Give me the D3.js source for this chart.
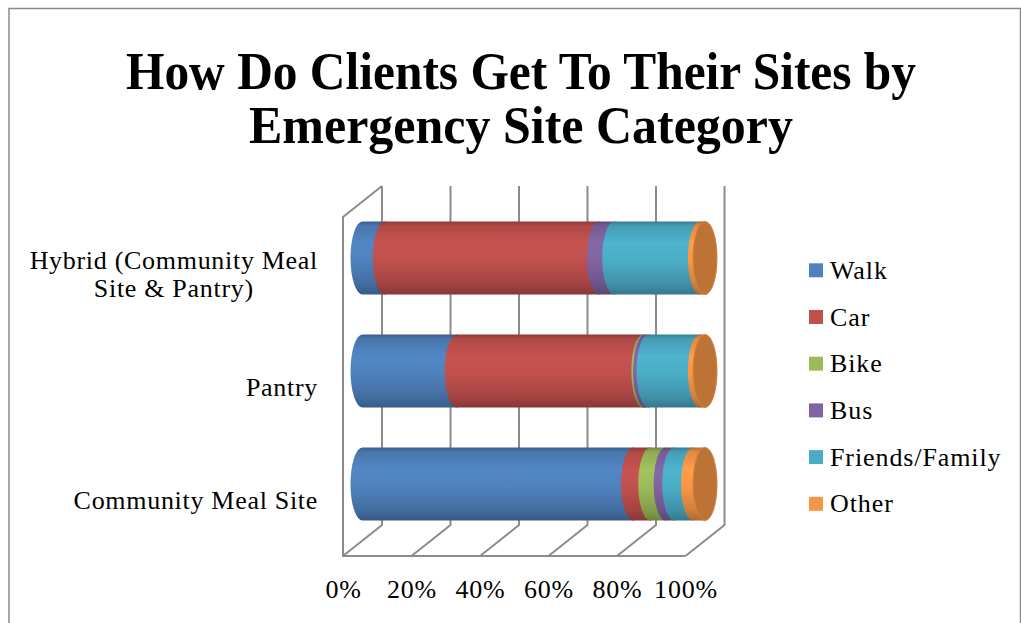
<!DOCTYPE html>
<html>
<head>
<meta charset="utf-8">
<script src="https://cdn.jsdelivr.net/npm/d3@7"></script>
<style>
  html, body { margin: 0; padding: 0; background: #fff; }
  svg { display: block; }
  text { font-family: "Liberation Serif", "Times New Roman", serif; fill: #000; }
</style>
</head>
<body>
<svg id="chart" width="1021" height="623"></svg>
<script>
// Share of clients by travel mode, per emergency site category (percent)
const categories = ["Hybrid", "Pantry", "Community Meal Site"];
const categoryLines = [["Hybrid (Community Meal", "Site & Pantry)"], ["Pantry"], ["Community Meal Site"]];
const modes = ["Walk", "Car", "Bike", "Bus", "Friends/Family", "Other"];
const walk    = [6.5, 27.5, 79];
const car     = [62.5, 54.5, 5];
const bike    = [0, 0.5, 4.5];
const bus     = [4.5, 1, 2.5];
const friends = [25, 15, 5.5];
const other   = [1.5, 1.5, 3.5];
const tickValues = [0, 20, 40, 60, 80, 100];
const colors = ["#4F81BD", "#C0504D", "#9BBB59", "#8064A2", "#4BACC6", "#F79646"];
const titleLines = ["How Do Clients Get To Their Sites by", "Emergency Site Category"];

const seriesValues = [walk, car, bike, bus, friends, other];
const rows = categories.map((c, i) => {
  const r = { category: c };
  modes.forEach((m, k) => { r[m] = seriesValues[k][i]; });
  return r;
});
const stacked = d3.stack().keys(modes)(rows);

const svg = d3.select("#chart");
svg.append("rect").attr("width", 1021).attr("height", 623).attr("fill", "#fff");

// outer chart border
svg.append("path")
  .attr("d", "M9,623 L9,8.5 L1020.5,8.5 L1020.5,623")
  .attr("fill", "none").attr("stroke", "#8a8a8a").attr("stroke-width", 1.5);

// title
const title = svg.append("g");
title.selectAll("text").data(titleLines).join("text")
  .attr("x", 521).attr("y", (d, i) => 89 + i * 54)
  .attr("text-anchor", "middle")
  .attr("font-weight", "bold")
  .attr("font-size", 52)
  .attr("textLength", (d, i) => i === 0 ? 790 : 544)
  .attr("lengthAdjust", "spacingAndGlyphs")
  .text(d => d);

// 3D frame geometry: front plane and depth offset
const depthX = 39, depthY = -31;
const x = d3.scaleLinear().domain([0, 100]).range([343, 685.5]);
const yFront = [217, 556];
const y = d3.scaleBand().domain(categories)
  .range([yFront[0] + depthY / 2, yFront[1] + depthY / 2])
  .paddingInner(0.354).paddingOuter(0.177);
const midX = v => x(v) + depthX / 2;

const grid = svg.append("g").attr("fill", "none").attr("stroke", "#8c8c8c").attr("stroke-width", 2);
// back wall verticals and floor diagonals
tickValues.forEach(t => {
  const bx = x(t) + depthX;
  grid.append("path").attr("d",
    `M${bx},${yFront[0] + depthY} L${bx},${yFront[1] + depthY} L${x(t)},${yFront[1]}`);
});
// left wall edges
grid.append("path").attr("d",
  `M${x(0) + depthX},${yFront[0] + depthY} L${x(0)},${yFront[0]} L${x(0)},${yFront[1]} L${x(100)},${yFront[1]}`);

// gradients for cylinder shading
const defs = svg.append("defs");
colors.forEach((c, i) => {
  const g = defs.append("linearGradient").attr("id", "cyl" + i)
    .attr("x1", 0).attr("y1", 0).attr("x2", 0).attr("y2", 1);
  const base = d3.color(c);
  [[0, base.darker(0.9)], [0.06, base.darker(0.25)], [0.3, base.brighter(0.12)],
   [0.55, base], [0.85, base.darker(0.45)], [1, base.darker(1)]]
    .forEach(([o, col]) => g.append("stop").attr("offset", o).attr("stop-color", col.formatHex()));
});

// cylinders
const r = y.bandwidth() / 2, rx = 12;
const cylPath = (x0, x1, cy) =>
  `M${x0},${cy - r} L${x1},${cy - r} A${rx},${r} 0 0 1 ${x1},${cy + r} ` +
  `L${x0},${cy + r} A${rx},${r} 0 0 1 ${x0},${cy - r} Z`;

const bars = svg.append("g");
categories.forEach((cat, ci) => {
  const cy = y(cat) + r;
  let lastK = 0;
  stacked.forEach((s, k) => {
    const [v0, v1] = s[ci];
    if (v1 - v0 <= 0) return;
    lastK = k;
    bars.append("path")
      .attr("d", cylPath(midX(v0), midX(v1), cy))
      .attr("fill", `url(#cyl${k})`);
  });
  const end = stacked[lastK][ci][1];
  bars.append("ellipse")
    .attr("cx", midX(end)).attr("cy", cy).attr("rx", rx).attr("ry", r)
    .attr("fill", d3.color(colors[lastK]).darker(0.75).formatHex())
    .attr("stroke", d3.color(colors[lastK]).darker(0.4).formatHex())
    .attr("stroke-width", 1);
});

// percent axis along the front floor edge
const axis = svg.append("g").attr("transform", `translate(0,${yFront[1]})`)
  .call(d3.axisBottom(x).tickValues(tickValues).tickSize(0).tickPadding(24).tickFormat(d => d + "%"));
axis.select(".domain").remove();
axis.selectAll("text").attr("font-family", "Liberation Serif, serif").attr("font-size", 26)
  .attr("letter-spacing", 0.8).attr("fill", "#000");

// category labels, centred on the front face of each band
const labels = svg.append("g").attr("font-size", 26).attr("letter-spacing", 0.7);
categories.forEach((cat, ci) => {
  const lines = categoryLines[ci];
  const cy = y(cat) + r - depthY / 2;
  const g = labels.append("g");
  const lineH = 28;
  const t = g.selectAll("text").data(lines).join("text")
    .attr("text-anchor", "middle")
    .attr("y", (d, i) => cy + 9 + (i - (lines.length - 1) / 2) * lineH)
    .text(d => d);
  const maxW = d3.max(t.nodes(), n => n.getComputedTextLength());
  t.attr("x", 318 - maxW / 2);
});

// legend
const legend = svg.append("g").attr("font-size", 26).attr("letter-spacing", 0.9);
modes.forEach((m, k) => {
  const cy = 270.8 + k * 46.7;
  legend.append("rect").attr("x", 809).attr("y", cy - 7.5).attr("width", 14).attr("height", 14)
    .attr("fill", colors[k]);
  legend.append("text").attr("x", 830).attr("y", cy + 8).text(m);
});
</script>
</body>
</html>
